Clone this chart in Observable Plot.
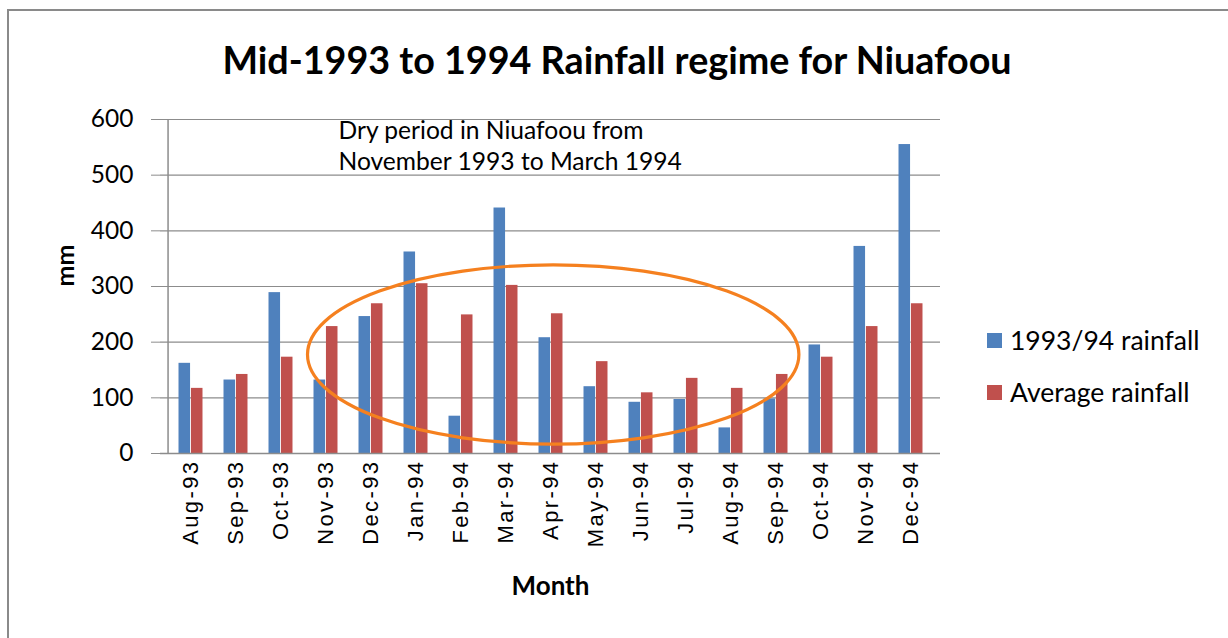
<!DOCTYPE html>
<html>
<head>
<meta charset="utf-8">
<script src="https://cdn.jsdelivr.net/npm/d3@7"></script>
<script src="https://cdn.jsdelivr.net/npm/@observablehq/plot@0.6"></script>
<style>
  body { margin: 0; background: #fff; }
  #wrap { position: relative; width: 1228px; height: 638px; overflow: hidden; font-family: Lato, sans-serif; color: #000; }
  #border { position: absolute; left: 7px; top: 9px; width: 1240px; height: 700px; border: 2px solid #8a8a8a; box-sizing: border-box; }
  #title { position: absolute; left: 0; top: 37px; width: 1234px; text-align: center; font-weight: bold; font-size: 37.7px; line-height: 46px; }
  #chart { position: absolute; left: 0; top: 0; }
  .leg { position: absolute; left: 987px; height: 30px; display: flex; align-items: center; font-size: 26.5px; white-space: nowrap; }
  .leg span.sw { display: inline-block; width: 15px; height: 15px; margin-right: 8px; }
  #chart svg g[aria-label^="y-axis"] path, #chart svg g[aria-label^="y-axis"] line { stroke: #8c8c8c; }
  #chart svg g[aria-label^="x-axis"] text { font-family: "Liberation Sans", Arial, sans-serif; font-size: 22px; letter-spacing: 2.4px; }
</style>
</head>
<body>
<div id="wrap">
  <div id="border"></div>
  <div id="chart"></div>
  <div id="title"></div>
  <div id="legend"></div>
</div>
<script>
// ---- data ----
const months = ["Aug-93","Sep-93","Oct-93","Nov-93","Dec-93","Jan-94","Feb-94","Mar-94","Apr-94","May-94","Jun-94","Jul-94","Aug-94","Sep-94","Oct-94","Nov-94","Dec-94"];
const rain9394 = [162,132,289,132,246,362,67,441,208,120,92,97,46,98,195,372,555];
const avgRain  = [117,142,173,228,269,305,249,302,251,165,109,135,117,142,173,228,269];
const seriesNames = ["1993/94 rainfall","Average rainfall"];
const yTicks = [0,100,200,300,400,500,600];
const titleText = "Mid-1993 to 1994 Rainfall regime for Niuafoou";
const annotationLines = ["Dry period in Niuafoou from","November 1993 to March 1994"];
const yLabel = "mm";
const xLabel = "Month";
// annotation ellipse, in band units (x) and mm (y)
const ellipseSpec = {cx: 8.56, rx: 5.46, cy: 177, ry: 161};

// ---- style ----
const colors = ["#4F81BD", "#C0504D"];
const W = 1228, H = 638, mL = 160, mR = 288, mT = 119, mB = 185;
const step = (W - mL - mR) / months.length;

const rows = months.map((m, i) => ({month: m, a: rain9394[i], b: avgRain[i]}));

function ellipseMark(index, scales, values, dims) {
  const x = scales.x, y = scales.y;
  const x0 = x(months[0]);
  const st = x(months[1]) - x(months[0]);
  const el = document.createElementNS("http://www.w3.org/2000/svg", "ellipse");
  el.setAttribute("cx", x0 + ellipseSpec.cx * st);
  el.setAttribute("rx", ellipseSpec.rx * st);
  el.setAttribute("cy", y(ellipseSpec.cy));
  el.setAttribute("ry", Math.abs(y(ellipseSpec.cy + ellipseSpec.ry) - y(ellipseSpec.cy)));
  el.setAttribute("fill", "none");
  el.setAttribute("stroke", "#F5801F");
  el.setAttribute("stroke-width", 3.2);
  return el;
}

const chart = Plot.plot({
  width: W, height: H,
  marginLeft: mL, marginRight: mR, marginTop: mT, marginBottom: mB,
  style: {fontFamily: "Lato, sans-serif", fontSize: "24.5px", color: "#000", background: "transparent", overflow: "visible"},
  x: {domain: months, padding: 0, tickSize: 0, tickRotate: -90, tickPadding: 6, label: null},
  y: {domain: [0, 600], ticks: yTicks, tickSize: 9, tickPadding: 18, label: null},
  marks: [
    Plot.ruleY(yTicks.slice(1), {stroke: "#8c8c8c", strokeWidth: 1.2}),
    Plot.barY(rows, {x: "month", y: "a", fill: colors[0], insetLeft: step * 0.229, insetRight: step * 0.5}),
    Plot.barY(rows, {x: "month", y: "b", fill: colors[1], insetLeft: step * 0.5, insetRight: step * 0.229}),
    Plot.ruleY([0], {stroke: "#8c8c8c", strokeWidth: 1.5}),
    Plot.ruleX([months[0]], {dx: -step / 2, stroke: "#8c8c8c", strokeWidth: 1.5}),
    ellipseMark,
    Plot.text([annotationLines.join("\n")], {text: d => d, frameAnchor: "top-left", dx: 178, dy: -3, textAnchor: "start", lineAnchor: "top", fontSize: 24.6, lineHeight: 1.27, fill: "#000"}),
    Plot.text([yLabel], {text: d => d, frameAnchor: "left", dx: -95, rotate: -90, fontWeight: "bold", fontSize: 25}),
    Plot.text([xLabel], {text: d => d, frameAnchor: "bottom", dy: 141, fontWeight: "bold", fontSize: 26})
  ]
});
document.getElementById("chart").appendChild(chart);
document.getElementById("title").textContent = titleText;

const legend = document.getElementById("legend");
const legTops = [325, 377];
seriesNames.forEach((name, i) => {
  const d = document.createElement("div");
  d.className = "leg";
  d.style.top = legTops[i] + "px";
  const sw = document.createElement("span");
  sw.className = "sw";
  sw.style.background = colors[i];
  d.appendChild(sw);
  d.appendChild(document.createTextNode(name));
  legend.appendChild(d);
});
</script>
</body>
</html>
